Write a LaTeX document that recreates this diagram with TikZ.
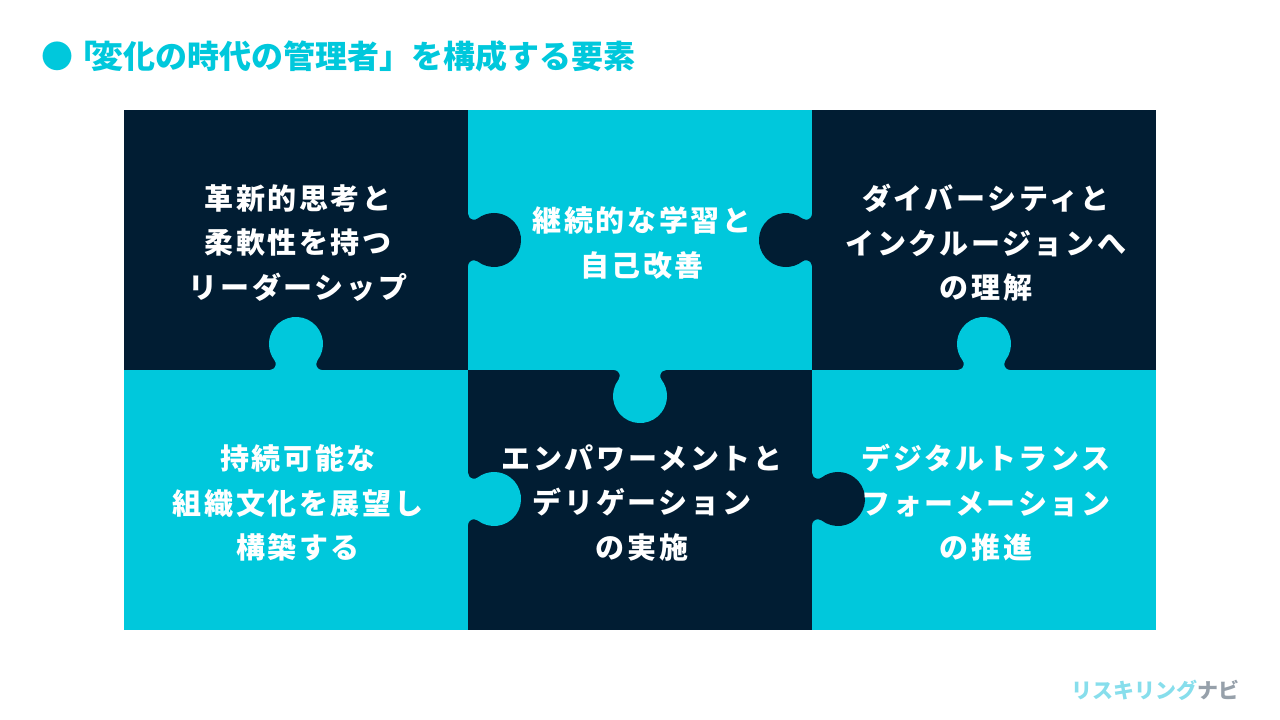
\documentclass[tikz,border=0pt]{standalone}
\usepackage{fontspec}
\setmainfont{Noto Sans CJK JP}
\usepackage{tikz}
\definecolor{navy}{RGB}{1,29,51}
\definecolor{aqua}{RGB}{0,200,220}
\definecolor{logoaqua}{RGB}{135,222,236}
\definecolor{logogrey}{RGB}{150,160,170}
% knob: #1 colour, #2 edge point, #3 rotation
\newcommand{\knob}[3]{%
  \fill[#1,shift={#2},rotate=#3] (-26.2,0)
    arc[start angle=-90,end angle=37.4,radius=6]
    arc[start angle=217.4,end angle=-37.4,radius=27]
    arc[start angle=142.6,end angle=270,radius=6] -- cycle;}

\begin{document}
\begin{tikzpicture}[x=1pt,y=-1pt,
  piece/.style={font=\bfseries\fontsize{29pt}{44.5pt}\selectfont
    \addfontfeature{LetterSpace=9},
    text=white,align=center,inner sep=0pt}]
  \useasboundingbox (0,0) rectangle (1280,720);
  \fill[white] (0,0) rectangle (1280,720);

  % title
  \node[font=\bfseries\fontsize{32pt}{36pt}\selectfont,text=aqua,
    anchor=west,inner sep=0pt] (title) at (41,56)
    {●\kern-8pt「\kern-6pt変化の時代の管理者」を構成する要素};

  % tiles
  \fill[navy] (124,110) rectangle (468,370);
  \fill[aqua] (468,110) rectangle (812,370);
  \fill[navy] (812,110) rectangle (1156,370);
  \fill[aqua] (124,370) rectangle (468,630);
  \fill[navy] (468,370) rectangle (812,630);
  \fill[aqua] (812,370) rectangle (1156,630);

  % knobs
  \knob{navy}{(468,240)}{90}
  \knob{navy}{(812,240)}{-90}
  \knob{aqua}{(296,370)}{180}
  \knob{aqua}{(640,370)}{0}
  \knob{aqua}{(984,370)}{180}
  \knob{aqua}{(468,499)}{90}
  \knob{navy}{(812,499)}{90}

  % texts
  \node[piece] (leader) at (298,243)
    {革新的思考と\\柔軟性を持つ\\リーダーシップ};
  \node[piece] (learn) at (642,243)
    {継続的な学習と\\自己改善};
  \node[piece] (divers) at (986,243)
    {ダイバーシティと\\インクルージョンへ\\の理解};
  \node[piece] (sustain) at (298,503)
    {持続可能な\\組織文化を展望し\\構築する};
  \node[piece] (empower) at (642,503)
    {エンパワーメントと\\デリゲーション\\の実施};
  \node[piece] (digital) at (986,503)
    {デジタルトランス\\フォーメーション\\の推進};

  % logo
  \node[font=\bfseries\fontsize{21pt}{24pt}\selectfont,anchor=east,
    inner sep=0pt] (logo) at (1240,690)
    {\textcolor{logoaqua}{リスキリング}\textcolor{logogrey}{ナビ}};
\end{tikzpicture}
\end{document}
